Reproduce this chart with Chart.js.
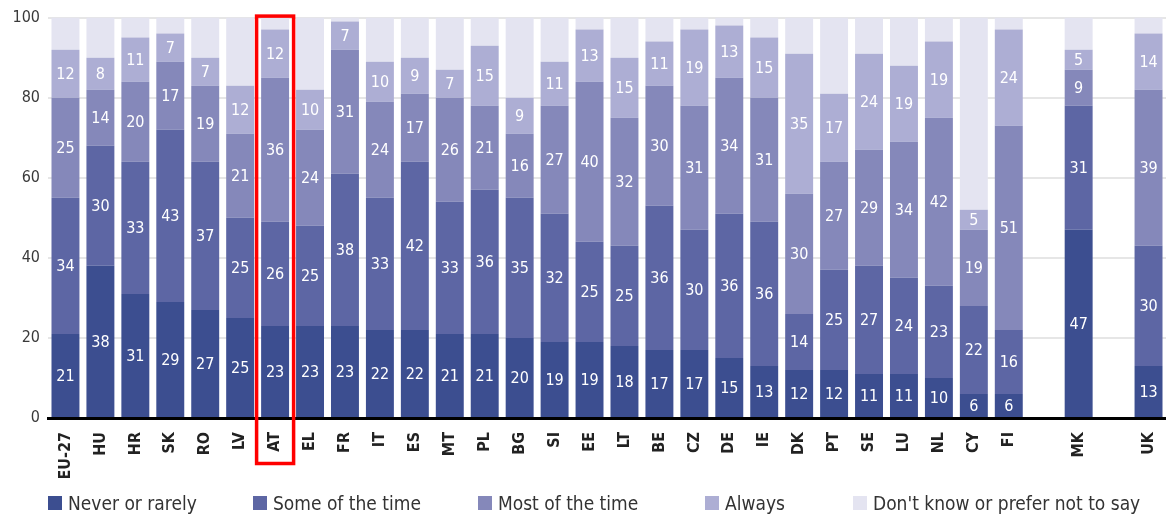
<!DOCTYPE html>
<html>
<head>
<meta charset="utf-8">
<script src="https://cdn.jsdelivr.net/npm/chart.js@4/dist/chart.umd.min.js"></script>
<style>
  html, body { margin: 0; padding: 0; background: #fff; }
  #wrap { width: 1166px; height: 516px; position: relative; }
</style>
</head>
<body>
<div id="wrap"><canvas id="chart" width="1166" height="516"></canvas></div>
<script>
// Countries (empty strings leave a gap before MK and before UK)
const categories = ['EU-27','HU','HR','SK','RO','LV','AT','EL','FR','IT','ES','MT','PL','BG','SI',
  'EE','LT','BE','CZ','DE','IE','DK','PT','SE','LU','NL','CY','FI','','MK','','UK'];

// Shares (%) per answer
const neverOrRarely = [21,38,31,29,27,25,23,23,23,22,22,21,21,20,19,19,18,17,17,15,13,12,12,11,11,10,6,6,null,47,null,13];
const someOfTheTime = [34,30,33,43,37,25,26,25,38,33,42,33,36,35,32,25,25,36,30,36,36,14,25,27,24,23,22,16,null,31,null,30];
const mostOfTheTime = [25,14,20,17,19,21,36,24,31,24,17,26,21,16,27,40,32,30,31,34,31,30,27,29,34,42,19,51,null,9,null,39];
const always        = [12,8,11,7,7,12,12,10,7,10,9,7,15,9,11,13,15,11,19,13,15,35,17,24,19,19,5,24,null,5,null,14];
const dontKnow      = [8,10,5,4,10,17,3,18,1,11,10,13,7,20,11,3,10,6,3,2,5,9,19,9,12,6,48,3,null,8,null,4];

const seriesNames = ['Never or rarely','Some of the time','Most of the time','Always',"Don't know or prefer not to say"];
const yTicks = [0,20,40,60,80,100];
const highlighted = 'AT';

const colors = ['#3c4e90','#5d66a4','#8588ba','#adaed4','#e4e4f1'];
const FONT = '"DejaVu Sans Condensed", "DejaVu Sans", sans-serif';

const seriesValues = [neverOrRarely, someOfTheTime, mostOfTheTime, always, dontKnow];

// White value labels centred in every segment except the last series
const valueLabels = {
  id: 'valueLabels',
  afterDatasetsDraw(chart) {
    const ctx = chart.ctx;
    ctx.save();
    ctx.font = '16px ' + FONT;
    ctx.fillStyle = '#ffffff';
    ctx.textAlign = 'center';
    ctx.textBaseline = 'middle';
    for (let d = 0; d < 4; d++) {
      const meta = chart.getDatasetMeta(d);
      meta.data.forEach((el, i) => {
        const v = chart.data.datasets[d].data[i];
        if (v === null || v === undefined) return;
        ctx.fillText(String(v), el.x, (el.y + el.base) / 2 + 1);
      });
    }
    ctx.restore();
  }
};

// Red frame around the highlighted country, bar and axis label
const highlightFrame = {
  id: 'highlightFrame',
  afterDraw(chart) {
    const idx = categories.indexOf(highlighted);
    if (idx < 0) return;
    const x = chart.scales.x.getPixelForValue(idx);
    const area = chart.chartArea;
    const ctx = chart.ctx;
    ctx.save();
    ctx.strokeStyle = '#ff0000';
    ctx.lineWidth = 3.5;
    ctx.strokeRect(x - 18.5, area.top - 1.5, 37, area.bottom - area.top + 47);
    ctx.restore();
  }
};

// Legend row along the bottom edge
const bottomLegend = {
  id: 'bottomLegend',
  afterDraw(chart) {
    const ctx = chart.ctx;
    const starts = [48, 253, 478, 705, 853];
    ctx.save();
    ctx.font = '19px ' + FONT;
    ctx.textBaseline = 'alphabetic';
    ctx.textAlign = 'left';
    seriesNames.forEach((name, i) => {
      ctx.fillStyle = colors[i];
      ctx.fillRect(starts[i], 496, 14, 14);
      ctx.fillStyle = '#333333';
      ctx.fillText(name, starts[i] + 20, 510);
    });
    ctx.restore();
  }
};

new Chart(document.getElementById('chart'), {
  type: 'bar',
  data: {
    labels: categories,
    datasets: seriesNames.map((name, i) => ({
      label: name,
      data: seriesValues[i],
      backgroundColor: colors[i],
      borderWidth: 0,
      barPercentage: 0.8,
      categoryPercentage: 1.0
    }))
  },
  options: {
    responsive: false,
    animation: false,
    layout: { padding: { top: 8, right: 0, bottom: 38, left: 0 } },
    plugins: {
      legend: { display: false },
      tooltip: { enabled: false }
    },
    scales: {
      x: {
        stacked: true,
        grid: { display: false },
        border: { display: true, color: '#000000', width: 3 },
        ticks: {
          autoSkip: false,
          minRotation: 90,
          maxRotation: 90,
          padding: 6,
          color: '#222222',
          font: { family: FONT, size: 16, weight: 'bold' }
        },
        afterFit(scale) {
          scale.height = 60;
          scale.paddingLeft = 0;
          scale.paddingRight = 0;
        }
      },
      y: {
        stacked: true,
        min: 0,
        max: 100,
        border: { display: false },
        grid: {
          drawTicks: false,
          lineWidth: 2,
          color: (c) => (c.tick && c.tick.value === 0) ? 'rgba(0,0,0,0)' : '#e6e6e6'
        },
        afterBuildTicks(scale) { scale.ticks = yTicks.map(v => ({ value: v })); },
        ticks: {
          padding: 8,
          color: '#3a3a3a',
          font: { family: FONT, size: 16 }
        },
        afterFit(scale) { scale.width = 48; }
      }
    }
  },
  plugins: [valueLabels, highlightFrame, bottomLegend]
});
</script>
</body>
</html>
